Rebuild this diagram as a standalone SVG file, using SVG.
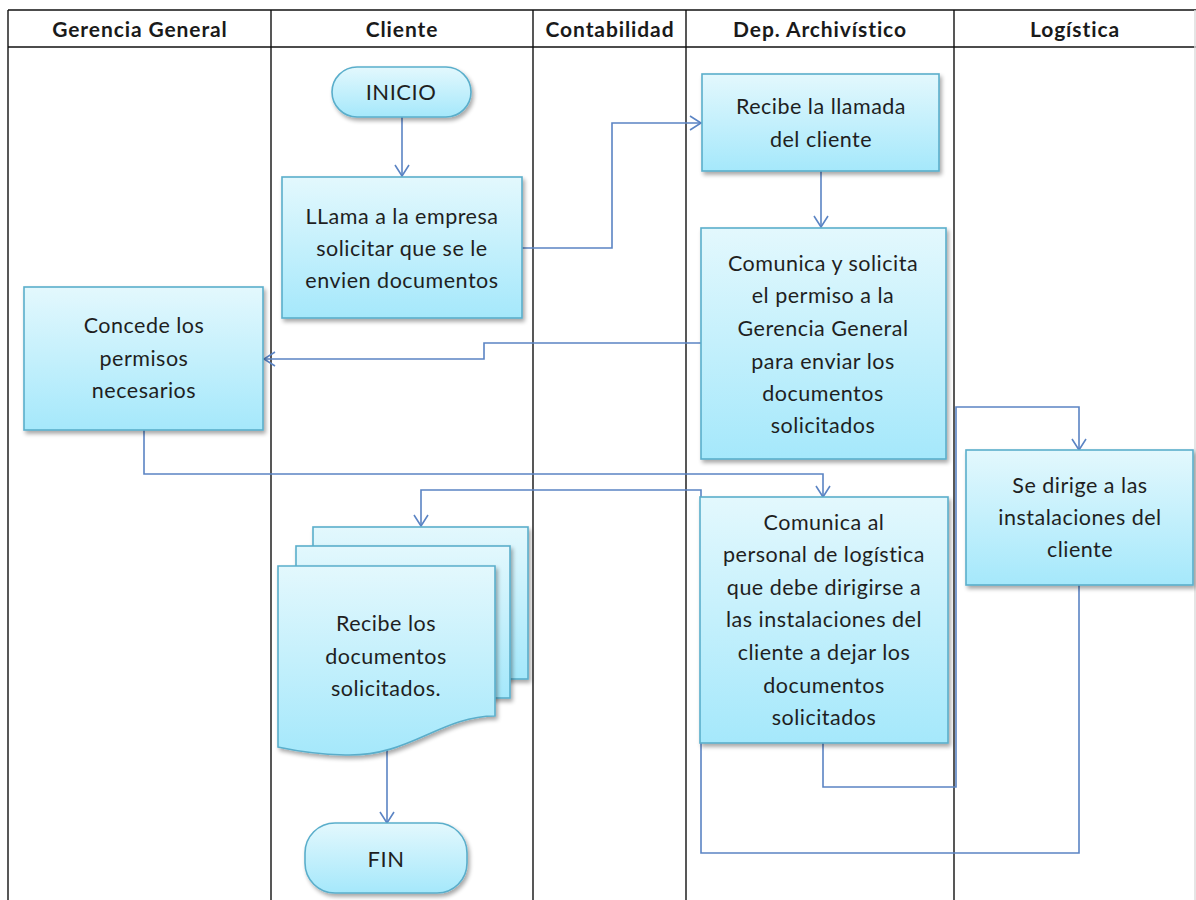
<svg xmlns="http://www.w3.org/2000/svg" width="1196" height="900" viewBox="0 0 1196 900">
<style>
.hdr{font-family:Lato,"Liberation Sans",sans-serif;font-size:21px;font-weight:bold;letter-spacing:0.9px;fill:#1a1a1a;text-anchor:middle}
.t{font-family:Lato,"Liberation Sans",sans-serif;font-size:21.5px;letter-spacing:0.5px;fill:#1f1f1f;text-anchor:middle}
.box{fill:url(#g);stroke:#5aaecb;stroke-width:1.6;filter:url(#sh)}
.cn{fill:none;stroke:#5b84c4;stroke-width:1.6}
.lane{stroke:#111;stroke-width:1.4}
</style>
<defs>
<linearGradient id="g" x1="0" y1="0" x2="0" y2="1">
<stop offset="0" stop-color="#e3f8fd"/>
<stop offset="1" stop-color="#a5e8fb"/>
</linearGradient>
<filter id="sh" x="-10%" y="-10%" width="125%" height="130%">
<feGaussianBlur in="SourceAlpha" stdDeviation="2"/>
<feOffset dx="1.5" dy="3" result="o"/>
<feComponentTransfer><feFuncA type="linear" slope="0.35"/></feComponentTransfer>
<feMerge><feMergeNode/><feMergeNode in="SourceGraphic"/></feMerge>
</filter>
<marker id="ar" markerWidth="16" markerHeight="16" refX="13" refY="8" orient="auto" markerUnits="userSpaceOnUse">
<path d="M2,1 L13,8 L2,15" fill="none" stroke="#5b84c4" stroke-width="1.6"/>
</marker>
</defs>

<g id="lanes">
<line class="lane" x1="8" y1="10" x2="1196" y2="10" stroke-width="2.5"/>
<line class="lane" x1="8" y1="47" x2="1196" y2="47" stroke-width="2.2"/>
<line class="lane" x1="8" y1="10" x2="8" y2="900" stroke-width="2"/>
<line class="lane" x1="271" y1="10" x2="271" y2="900"/>
<line class="lane" x1="533" y1="10" x2="533" y2="900"/>
<line class="lane" x1="686" y1="10" x2="686" y2="900"/>
<line class="lane" x1="954" y1="10" x2="954" y2="900"/>
<line x1="1195" y1="10" x2="1195" y2="900" stroke="#ddd" stroke-width="1.5"/>
<text class="hdr" x="140" y="37">Gerencia General</text>
<text class="hdr" x="402" y="37">Cliente</text>
<text class="hdr" x="610" y="37">Contabilidad</text>
<text class="hdr" x="820" y="37">Dep. Archivístico</text>
<text class="hdr" x="1075" y="37">Logística</text>
</g>

<g id="connectors">
<path class="cn" d="M402,117 L402,176" marker-end="url(#ar)"/>
<path class="cn" d="M522,248 H612 V123 H701" marker-end="url(#ar)"/>
<path class="cn" d="M821,171 V227" marker-end="url(#ar)"/>
<path class="cn" d="M701,343 H484 V359 H264" marker-end="url(#ar)"/>
<path class="cn" d="M144,430 V474 H823 V497" marker-end="url(#ar)"/>
<path class="cn" d="M823,743 V787 H956 V407 H1079 V450" marker-end="url(#ar)"/>
<path class="cn" d="M1079,585 V853 H701 V490 H421 V526" marker-end="url(#ar)"/>
<path class="cn" d="M387,748 V823" marker-end="url(#ar)"/>
</g>

<g id="inicio">
<rect class="box" x="332" y="67" width="139" height="50" rx="25"/>
<text class="t" x="401" y="100" style="font-size:22px">INICIO</text>
</g>

<g id="llama">
<rect class="box" x="282" y="177" width="240" height="141"/>
<text class="t" x="402" y="224">LLama a la empresa</text>
<text class="t" x="402" y="256">solicitar que se le</text>
<text class="t" x="402" y="288">envien documentos</text>
</g>

<g id="recibe">
<rect class="box" x="702" y="74" width="237" height="97"/>
<text class="t" x="821" y="114">Recibe la llamada</text>
<text class="t" x="821" y="147">del cliente</text>
</g>

<g id="comunica1">
<rect class="box" x="701" y="228" width="245" height="231"/>
<text class="t" x="823" y="271">Comunica y solicita</text>
<text class="t" x="823" y="303">el permiso a la</text>
<text class="t" x="823" y="336">Gerencia General</text>
<text class="t" x="823" y="369">para enviar los</text>
<text class="t" x="823" y="401">documentos</text>
<text class="t" x="823" y="433">solicitados</text>
</g>

<g id="concede">
<rect class="box" x="24" y="287" width="239" height="143"/>
<text class="t" x="144" y="333">Concede los</text>
<text class="t" x="144" y="366">permisos</text>
<text class="t" x="144" y="398">necesarios</text>
</g>

<g id="comunica2">
<rect class="box" x="700" y="497" width="248" height="246"/>
<text class="t" x="824" y="530">Comunica al</text>
<text class="t" x="824" y="562">personal de logística</text>
<text class="t" x="824" y="595">que debe dirigirse a</text>
<text class="t" x="824" y="627">las instalaciones del</text>
<text class="t" x="824" y="660">cliente a dejar los</text>
<text class="t" x="824" y="693">documentos</text>
<text class="t" x="824" y="725">solicitados</text>
</g>

<g id="sedirige">
<rect class="box" x="966" y="450" width="227" height="135"/>
<text class="t" x="1080" y="493">Se dirige a las</text>
<text class="t" x="1080" y="525">instalaciones del</text>
<text class="t" x="1080" y="557">cliente</text>
</g>

<g id="documentos">
<rect class="box" x="313" y="527" width="215" height="152"/>
<rect class="box" x="296" y="546" width="214" height="152"/>
<path class="box" d="M278,566 H495 V716 C440,716 410,757 345,755 C310,754 292,750 278,747 Z"/>
<text class="t" x="386" y="631">Recibe los</text>
<text class="t" x="386" y="664">documentos</text>
<text class="t" x="386" y="696">solicitados.</text>
</g>

<g id="fin">
<rect class="box" x="305" y="823" width="162" height="70" rx="30"/>
<text class="t" x="386" y="867" style="font-size:22px">FIN</text>
</g>
</svg>
